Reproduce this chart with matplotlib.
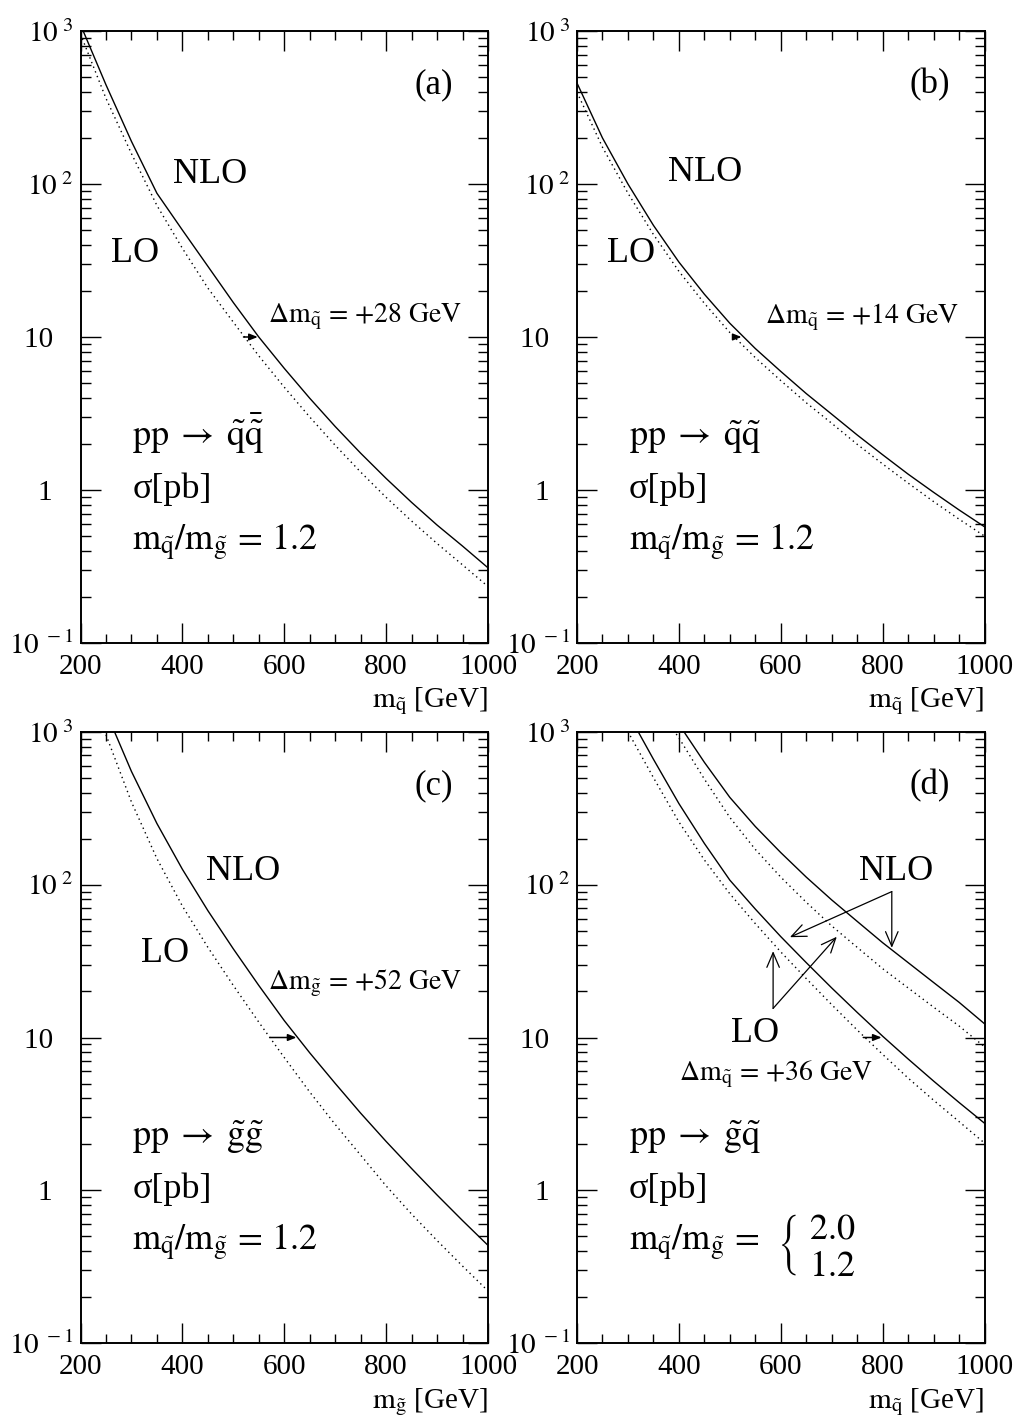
import matplotlib
matplotlib.use('Agg')
import matplotlib.pyplot as plt
from matplotlib.ticker import FixedLocator, FixedFormatter, MultipleLocator, LogLocator, NullFormatter

plt.rcParams['font.family'] = ['Liberation Serif', 'DejaVu Serif']
plt.rcParams['mathtext.fontset'] = 'stix'

# ---------------- data (sigma in pb vs mass in GeV) ----------------
m_a = [200, 250, 300, 350, 400, 450, 500, 550, 600, 650, 700, 750, 800, 850, 900, 950, 1000]
nlo_a = [1100, 445, 190, 87, 50, 29, 16.8, 10.0, 6.24, 3.98, 2.6, 1.74, 1.19, 0.83, 0.59, 0.43, 0.31]
lo_a = [955, 363, 158, 72.4, 38.0, 20.9, 12.5, 7.53, 4.7, 3.0, 1.96, 1.31, 0.895, 0.627, 0.447, 0.324, 0.234]

m_b = [200, 250, 300, 350, 400, 450, 500, 550, 600, 650, 700, 750, 800, 850, 900, 950, 1000]
nlo_b = [457, 200, 100, 53.7, 30.9, 19.05, 12.3, 8.41, 5.96, 4.27, 3.13, 2.29, 1.70, 1.27, 0.966, 0.741, 0.575]
lo_b = [398, 174, 87.1, 46.8, 26.9, 16.6, 10.7, 7.33, 5.19, 3.72, 2.73, 1.99, 1.48, 1.11, 0.84, 0.645, 0.50]

m_c = [250, 300, 350, 400, 450, 500, 550, 600, 650, 700, 750, 800, 850, 900, 950, 1000]
nlo_c = [1349, 550, 251, 126, 67.6, 38.0, 21.9, 12.9, 7.94, 5.01, 3.2, 2.09, 1.39, 0.933, 0.635, 0.437]
lo_c = [955, 347, 148, 72.4, 38.9, 21.9, 12.6, 7.4, 4.4, 2.7, 1.7, 1.07, 0.70, 0.47, 0.32, 0.22]

m_d_hi = [350, 400, 450, 500, 550, 600, 650, 700, 750, 800, 850, 900, 950, 1000]
nlo_d_hi = [2090, 1120, 631, 372, 240, 162, 112, 79.4, 57.5, 41.7, 30.9, 22.9, 17.0, 12.3]
lo_d_hi = [1585, 912, 490, 275, 170, 112, 76.7, 53.7, 38.9, 28.2, 21.1, 15.8, 11.9, 8.7]

m_d_lo = [250, 300, 350, 400, 450, 500, 550, 600, 650, 700, 750, 800, 850, 900, 950, 1000]
nlo_d_lo = [2820, 1320, 661, 339, 186, 107, 69.2, 45.7, 30.9, 21.1, 14.6, 10.2, 7.24, 5.19, 3.76, 2.75]
lo_d_lo = [2090, 1000, 501, 257, 145, 87.1, 55.6, 36.3, 24.3, 16.4, 11.2, 7.76, 5.43, 3.89, 2.82, 2.04]

# mass shift arrows at sigma = 10 pb: (LO mass, NLO mass, text)
shift_a = (520, 548, r'$\Delta\mathrm{m}_{\tilde{\mathrm{q}}}\,=\,{+}28\ \mathrm{GeV}$')
shift_b = (509, 523, r'$\Delta\mathrm{m}_{\tilde{\mathrm{q}}}\,=\,{+}14\ \mathrm{GeV}$')
shift_c = (572, 624, r'$\Delta\mathrm{m}_{\tilde{\mathrm{g}}}\,=\,{+}52\ \mathrm{GeV}$')
shift_d = (762, 798, r'$\Delta\mathrm{m}_{\tilde{\mathrm{q}}}\,=\,{+}36\ \mathrm{GeV}$')
shift_sigma = 10

# label arrows in panel (d): (start mass, start sigma) -> (end mass, end sigma)
nlo_arrow_start = (818, 90)
nlo_arrow_ends = [(618, 45.3), (818, 38.6)]
lo_arrow_start = (585, 15.5)
lo_arrow_ends = [(585, 36.7), (710, 45.6)]

process = [r'$\mathrm{pp}\;\rightarrow\;\tilde{\mathrm{q}}\bar{\tilde{\mathrm{q}}}$',
           r'$\mathrm{pp}\;\rightarrow\;\tilde{\mathrm{q}}\tilde{\mathrm{q}}$',
           r'$\mathrm{pp}\;\rightarrow\;\tilde{\mathrm{g}}\tilde{\mathrm{g}}$',
           r'$\mathrm{pp}\;\rightarrow\;\tilde{\mathrm{g}}\tilde{\mathrm{q}}$']
xlabels = [r'$\mathrm{m}_{\tilde{\mathrm{q}}}$ [GeV]', r'$\mathrm{m}_{\tilde{\mathrm{q}}}$ [GeV]',
           r'$\mathrm{m}_{\tilde{\mathrm{g}}}$ [GeV]', r'$\mathrm{m}_{\tilde{\mathrm{q}}}$ [GeV]']
panel_tags = ['(a)', '(b)', '(c)', '(d)']
ratio_txt = r'$\mathrm{m}_{\tilde{\mathrm{q}}}/\mathrm{m}_{\tilde{\mathrm{g}}}\,=\,1.2$'
ratio_txt_d = r'$\mathrm{m}_{\tilde{\mathrm{q}}}/\mathrm{m}_{\tilde{\mathrm{g}}}\,=$'
ratio_vals_d = ['2.0', '1.2']

yticks = [0.1, 1, 10, 100, 1000]
yticklabels = [r'$10^{\ -1}$', '1\u2002\u2009', '10\u2002\u2009', r'$10^{\ 2}$', r'$10^{\ 3}$']
xticks = [200, 400, 600, 800, 1000]

# ---------------- figure ----------------
W, H = 1021, 1426
fig = plt.figure(figsize=(W / 100, H / 100), dpi=100)

def box(x0, y0, x1, y1):
    return [x0 / W, 1 - y1 / H, (x1 - x0) / W, (y1 - y0) / H]

axes = [fig.add_axes(box(80.5, 31, 488, 643)),
        fig.add_axes(box(577, 31, 984.5, 643)),
        fig.add_axes(box(80.5, 731.7, 488, 1343.3)),
        fig.add_axes(box(577, 731.7, 984.5, 1343.3))]

LW = 1.0
DOT = (0, (1.0, 2.6))

for ax in axes:
    ax.set_yscale('log')
    ax.set_xlim(200, 1000)
    ax.set_ylim(0.1, 1000)
    ax.yaxis.set_major_locator(FixedLocator(yticks))
    ax.yaxis.set_major_formatter(FixedFormatter(yticklabels))
    ax.yaxis.set_minor_locator(LogLocator(base=10, subs=[2, 3, 4, 5, 6, 7, 8, 9], numticks=20))
    ax.yaxis.set_minor_formatter(NullFormatter())
    ax.xaxis.set_major_locator(FixedLocator(xticks))
    ax.xaxis.set_minor_locator(MultipleLocator(50))
    ax.tick_params(which='both', direction='in', top=True, right=True, width=1.0)
    ax.tick_params(axis='y', which='major', length=14.5, labelsize=21, pad=5)
    ax.tick_params(axis='y', which='minor', length=7.5)
    ax.tick_params(axis='x', which='major', length=14.5, labelsize=21, pad=8)
    ax.tick_params(axis='x', which='minor', length=6.5)
    for s in ax.spines.values():
        s.set_linewidth(1.4)

def curves(ax, m, nlo, lo):
    ax.plot(m, nlo, color='black', lw=LW, solid_joinstyle='round')
    ax.plot(m, lo, color='black', lw=LW, linestyle=DOT)

curves(axes[0], m_a, nlo_a, lo_a)
curves(axes[1], m_b, nlo_b, lo_b)
curves(axes[2], m_c, nlo_c, lo_c)
curves(axes[3], m_d_hi, nlo_d_hi, lo_d_hi)
curves(axes[3], m_d_lo, nlo_d_lo, lo_d_lo)

# mass shift arrows and texts
shift_pos = [(0.461, 0.533), (0.461, 0.533), (0.46, 0.589), (0.251, 0.440)]
for ax, sh, (tx, ty) in zip(axes, [shift_a, shift_b, shift_c, shift_d], shift_pos):
    ax.annotate('', xy=(sh[1], shift_sigma), xytext=(sh[0], shift_sigma),
                arrowprops=dict(arrowstyle='-|>,head_length=0.5,head_width=0.2', lw=1.1,
                                color='black', mutation_scale=10, shrinkA=0, shrinkB=0))
    ax.text(tx, ty, sh[2], transform=ax.transAxes, fontsize=20, ha='left', va='center')

# panel tags, NLO / LO labels
nlo_pos = [(0.319, 0.766), (0.315, 0.769), (0.40, 0.771), (0.783, 0.771)]
lo_pos = [(0.135, 0.636), (0.133, 0.637), (0.208, 0.637), (0.436, 0.506)]
for ax, tag, npos, lpos, proc, xl in zip(axes, panel_tags, nlo_pos, lo_pos, process, xlabels):
    ax.text(0.866, 0.912, tag, transform=ax.transAxes, fontsize=25, ha='center', va='center')
    ax.text(npos[0], npos[1], 'NLO', transform=ax.transAxes, fontsize=26, ha='center', va='center')
    ax.text(lpos[0], lpos[1], 'LO', transform=ax.transAxes, fontsize=26, ha='center', va='center')
    ax.text(0.127, 0.322, proc, transform=ax.transAxes, fontsize=26, ha='left', va='baseline')
    ax.text(0.127, 0.237, 'σ[pb]', transform=ax.transAxes, fontsize=26, ha='left', va='baseline')
    ax.set_xlabel(xl, fontsize=21, loc='right', labelpad=4)

for ax in axes[:3]:
    ax.text(0.127, 0.152, ratio_txt, transform=ax.transAxes, fontsize=26, ha='left', va='baseline')

axd = axes[3]
axd.text(0.127, 0.152, ratio_txt_d, transform=axd.transAxes, fontsize=26, ha='left', va='baseline')
brace_txt = (r'$\left\{\genfrac{}{}{0}{0}{\ \mathrm{' + ratio_vals_d[0] + r'}}{\ \mathrm{'
             + ratio_vals_d[1] + r'}}\right.$')
axd.text(0.49, 0.161, brace_txt, transform=axd.transAxes, fontsize=26, ha='left', va='center')

# label arrows in (d)
astyle = dict(arrowstyle='->,head_length=0.7,head_width=0.3', lw=0.9, color='black',
              mutation_scale=15, shrinkA=0, shrinkB=0)
for end in nlo_arrow_ends:
    axd.annotate('', xy=end, xytext=nlo_arrow_start, arrowprops=astyle)
for end in lo_arrow_ends:
    axd.annotate('', xy=end, xytext=lo_arrow_start, arrowprops=astyle)

fig.savefig('out.png', dpi=100)
